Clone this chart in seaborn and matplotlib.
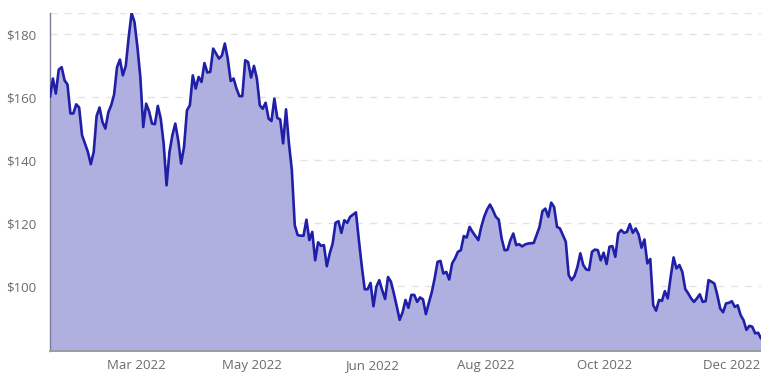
import matplotlib
matplotlib.use("Agg")
import matplotlib.pyplot as plt
import seaborn as sns
import numpy as np
import pandas as pd

# ---- data ----
prices = [
    160.1, 165.9, 161.1, 168.7, 169.5, 165.3, 164.0, 154.8, 154.8, 157.7, 156.7, 147.9, 145.3, 142.6,
    138.7, 142.6, 154.0, 156.7, 152.1, 150.0, 155.1, 157.4, 160.8, 169.5, 171.9, 166.9, 169.9, 179.0,
    186.7, 183.8, 175.9, 166.4, 150.5, 157.9, 155.5, 151.6, 151.4, 157.2, 153.2, 145.3, 132.0, 142.6,
    147.9, 151.6, 146.3, 138.9, 144.2, 155.8, 157.4, 166.9, 162.7, 166.4, 164.8, 170.8, 167.8, 168.0,
    175.4, 173.8, 172.2, 173.2, 177.0, 172.2, 165.1, 165.9, 162.7, 160.3, 160.3, 171.7, 171.1, 166.2,
    169.9, 165.9, 157.4, 156.3, 158.2, 153.2, 152.4, 159.5, 153.4, 152.9, 145.3, 156.1, 145.3, 136.8,
    119.3, 116.2, 116.0, 116.0, 121.1, 114.6, 117.2, 108.2, 113.9, 112.8, 113.0, 106.3, 110.4, 113.5,
    120.1, 120.6, 116.9, 120.9, 120.1, 122.0, 122.7, 123.4, 114.6, 106.3, 99.0, 99.0, 101.0, 93.6,
    99.8, 101.9, 98.7, 95.9, 102.9, 101.4, 97.7, 93.6, 89.3, 91.7, 95.6, 93.1, 97.2, 97.2,
    95.0, 96.4, 95.8, 91.1, 94.7, 98.0, 102.4, 107.7, 108.0, 104.0, 104.5, 102.1, 107.2, 108.8,
    110.9, 111.4, 115.9, 115.4, 118.8, 117.2, 115.9, 114.6, 118.8, 122.0, 124.3, 125.9, 124.1, 122.0,
    121.1, 115.1, 111.4, 111.5, 114.6, 116.7, 113.0, 113.3, 112.6, 113.2, 113.5, 113.6, 113.7, 116.2,
    118.8, 123.8, 124.6, 122.0, 126.5, 125.1, 118.8, 118.3, 116.2, 114.1, 103.5, 101.9, 103.2, 106.1,
    110.4, 106.7, 105.3, 105.1, 110.9, 111.6, 111.4, 108.2, 110.6, 107.0, 112.5, 112.7, 109.3, 116.7,
    117.8, 116.9, 117.2, 119.7, 116.9, 118.3, 116.4, 112.2, 114.8, 107.2, 108.6, 94.0, 92.2, 95.6,
    95.3, 98.4, 96.1, 102.9, 109.1, 105.6, 106.7, 104.5, 99.1, 97.7, 96.1, 95.0, 96.1, 97.4,
    95.0, 95.2, 101.9, 101.4, 100.8, 97.2, 92.9, 91.7, 94.5, 94.7, 95.2, 93.4, 93.9, 90.8,
    89.2, 86.1, 87.4, 87.1, 85.0, 85.2, 83.4,
]
tick_labels = ["Mar 2022", "May 2022", "Jun 2022", "Aug 2022", "Oct 2022", "Dec 2022"]
y_ticks = [100, 120, 140, 160, 180]

# ---- layout constants ----
W, H = 761, 375
ax_left, ax_right, ax_top, ax_bottom = 50, 761, 13.3, 351
tick_px = [136.7, 252, 371.7, 486, 604.7, 731.7]

n = len(prices)
df = pd.DataFrame({"idx": np.arange(n), "price": prices})

sns.set_theme(style="white")
plt.rcParams["font.family"] = ["Open Sans", "DejaVu Sans"]

fig = plt.figure(figsize=(W / 100, H / 100), dpi=100)
ax = fig.add_axes([ax_left / W, (H - ax_bottom) / H,
                   (ax_right - ax_left) / W, (ax_bottom - ax_top) / H])

ymin, ymax = 79.4, 186.6
ax.fill_between(df["idx"], df["price"], ymin, color="#b0b0e0", linewidth=0, zorder=1)
sns.lineplot(data=df, x="idx", y="price", ax=ax, color="#1f1fa8", linewidth=1.9, zorder=3)

ax.set_xlim(0, n - 1)
ax.set_ylim(ymin, ymax)

# grid
for v in y_ticks + [ymax]:
    ax.axhline(v, color="#e3e3e3", linewidth=1.0, linestyle=(0, (5, 5)), zorder=0.5)

ax.set_yticks(y_ticks)
ax.set_yticklabels([f"${v}" for v in y_ticks])
tick_idx = [(p - ax_left) / (ax_right - ax_left) * (n - 1) for p in tick_px]
ax.set_xticks(tick_idx)
ax.set_xticklabels(tick_labels)
ax.tick_params(axis="both", length=0, labelsize=9.5, colors="#6b6b6b")
ax.tick_params(axis="y", pad=10)
ax.tick_params(axis="x", pad=6)
ax.set_xlabel("")
ax.set_ylabel("")

for s in ["top", "right"]:
    ax.spines[s].set_visible(False)
ax.spines["left"].set_color("#7a7a9a")
ax.spines["left"].set_linewidth(1.0)
ax.spines["bottom"].set_color("#9a9a9a")
ax.spines["bottom"].set_linewidth(1.3)

fig.savefig("out.png", dpi=100)
